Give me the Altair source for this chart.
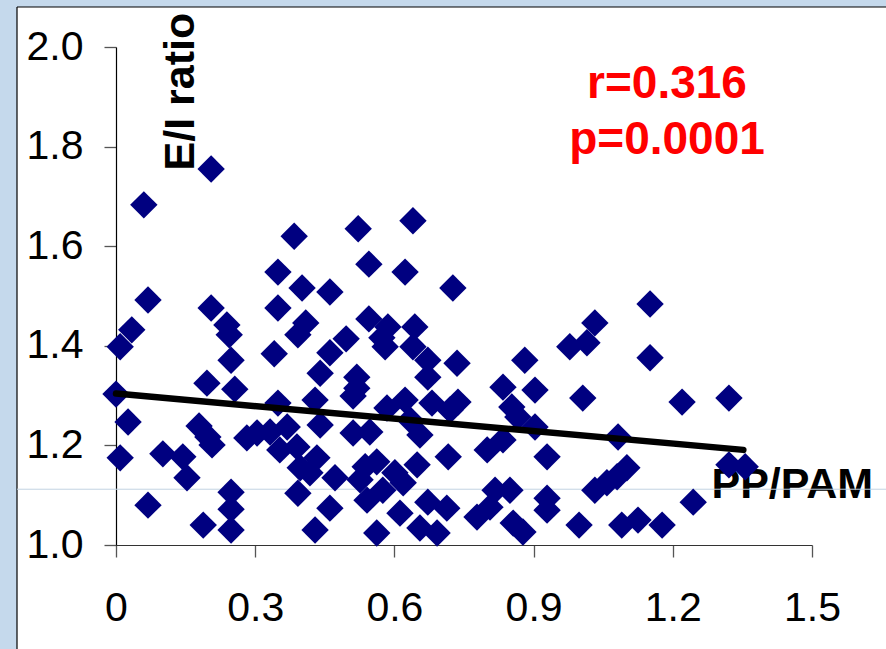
import altair as alt
import pandas as pd

# ---- data ----
PP_PAM = [0.000, 0.009, 0.034, 0.026, 0.009, 0.069, 0.060, 0.205, 0.069, 0.384,
          0.349, 0.401, 0.205, 0.239, 0.244, 0.349, 0.409, 0.392, 0.248, 0.341,
          0.522, 0.640, 0.545, 0.623, 0.726, 0.461, 0.545, 0.586, 0.644, 0.573,
          0.580, 0.640, 0.496, 0.461, 0.672, 0.735, 0.881, 1.151, 1.032, 0.978,
          1.015, 1.151, 0.196, 0.256, 0.179, 0.198, 0.207, 0.101, 0.144, 0.153,
          0.248, 0.248, 0.188, 0.248, 0.282, 0.304, 0.332, 0.349, 0.369, 0.353,
          0.390, 0.397, 0.418, 0.392, 0.429, 0.429, 0.440, 0.433, 0.519, 0.519,
          0.511, 0.672, 0.584, 0.623, 0.681, 0.737, 0.720, 0.440, 0.511, 0.547,
          0.655, 0.634, 0.834, 0.853, 0.866, 0.834, 0.800, 0.716, 0.472, 0.537,
          0.562, 0.601, 0.649, 0.619, 0.575, 0.541, 0.526, 0.461, 0.562, 0.612,
          0.672, 0.713, 0.655, 0.692, 0.817, 0.849, 0.806, 0.778, 0.856, 0.877,
          0.903, 1.006, 1.220, 1.321, 0.903, 1.082, 0.929, 1.101, 1.080, 1.058,
          1.032, 1.321, 1.356, 0.929, 0.929, 1.244, 0.998, 1.090, 1.125, 1.177]

EI_RATIO = [1.303, 1.398, 1.432, 1.247, 1.175, 1.080, 1.683, 1.755, 1.492, 1.620,
            1.548, 1.516, 1.476, 1.442, 1.422, 1.476, 1.446, 1.422, 1.371, 1.384,
            1.635, 1.651, 1.564, 1.548, 1.516, 1.508, 1.454, 1.438, 1.438, 1.416,
            1.398, 1.398, 1.414, 1.386, 1.371, 1.365, 1.371, 1.484, 1.446, 1.398,
            1.406, 1.376, 1.325, 1.313, 1.239, 1.217, 1.201, 1.183, 1.177, 1.135,
            1.106, 1.072, 1.040, 1.030, 1.215, 1.225, 1.227, 1.285, 1.237, 1.191,
            1.197, 1.155, 1.145, 1.104, 1.291, 1.030, 1.345, 1.175, 1.337, 1.315,
            1.299, 1.337, 1.275, 1.291, 1.285, 1.287, 1.271, 1.241, 1.225, 1.227,
            1.221, 1.251, 1.317, 1.277, 1.257, 1.211, 1.191, 1.177, 1.135, 1.157,
            1.167, 1.145, 1.161, 1.125, 1.110, 1.090, 1.131, 1.074, 1.024, 1.064,
            1.086, 1.074, 1.034, 1.024, 1.110, 1.110, 1.076, 1.056, 1.044, 1.026,
            1.311, 1.295, 1.287, 1.295, 1.237, 1.217, 1.177, 1.155, 1.137, 1.125,
            1.110, 1.161, 1.157, 1.094, 1.070, 1.086, 1.040, 1.040, 1.050, 1.040]

TREND_X = [0.0, 1.352]
TREND_Y = [1.304, 1.191]

X_TICKS = [0, 0.3, 0.6, 0.9, 1.2, 1.5]
Y_TICKS = [1.0, 1.2, 1.4, 1.6, 1.8, 2.0]

STATS_TEXT = ["r=0.316", "p=0.0001"]
STATS_X = [1.1875, 1.1875]
STATS_Y = [1.898, 1.785]

SLIDE_LINE_Y = [1.112]

FONT = "Liberation Sans"
BG_BLUE = "#C5D9EC"

points_df = pd.DataFrame({"pp": PP_PAM, "ei": EI_RATIO})
trend_df = pd.DataFrame({"pp": TREND_X, "ei": TREND_Y})
stats_df = pd.DataFrame({"pp": STATS_X, "ei": STATS_Y, "label": STATS_TEXT})
line_df = pd.DataFrame({"ei": SLIDE_LINE_Y})
one = pd.DataFrame({"k": [0]})

x_scale = alt.Scale(domain=[0, 1.5], nice=False, zero=False)
y_scale = alt.Scale(domain=[1.0, 2.0], nice=False, zero=False)

x_axis = alt.Axis(
    values=X_TICKS,
    labelExpr="datum.value == 0 ? '0' : format(datum.value, '.1f')",
    title="PP/PAM", titleX=595, titleY=-48, titleAlign="left",
    titleBaseline="alphabetic", titleAngle=0, titleFont=FONT,
    titleFontSize=43, titleFontWeight="bold", titleColor="black",
    labelFont=FONT, labelFontSize=41, labelColor="black", labelPadding=31,
    labelFlush=False, labelOverlap=False,
    tickSize=12, tickColor="#555555", tickWidth=1.3,
    domainColor="#333333", domainWidth=1.2, grid=False,
)
y_axis = alt.Axis(
    values=Y_TICKS, format=".1f",
    title="E/I ratio", titleX=77, titleY=123, titleAngle=270,
    titleAlign="left", titleBaseline="alphabetic", titleFont=FONT,
    titleFontSize=43, titleFontWeight="bold", titleColor="black",
    labelFont=FONT, labelFontSize=41, labelColor="black", labelPadding=21,
    labelFlush=False, labelOverlap=False,
    tickSize=12, tickColor="#555555", tickWidth=1.3,
    domainColor="black", domainWidth=1.2, grid=False,
)

strip_left = alt.Chart(one).mark_rect(color=BG_BLUE).encode(
    x=alt.value(-116), x2=alt.value(-99), y=alt.value(-47), y2=alt.value(602))
strip_top = alt.Chart(one).mark_rect(color=BG_BLUE).encode(
    x=alt.value(-116), x2=alt.value(770), y=alt.value(-47), y2=alt.value(-40))
frame_left = alt.Chart(one).mark_rule(color="black", strokeWidth=1.2).encode(
    x=alt.value(-99), y=alt.value(-40), y2=alt.value(602))
frame_top = alt.Chart(one).mark_rule(color="black", strokeWidth=1.2).encode(
    x=alt.value(-99), x2=alt.value(770), y=alt.value(-40))

slide_line = alt.Chart(line_df).mark_rule(color="#C3D3E2", strokeWidth=1).encode(
    y=alt.Y("ei:Q", scale=y_scale, axis=y_axis),
    x=alt.value(-99), x2=alt.value(770))

points = alt.Chart(points_df).mark_point(
    shape="diamond", filled=True, size=750, color="#000080", opacity=1
).encode(
    x=alt.X("pp:Q", scale=x_scale, axis=x_axis),
    y=alt.Y("ei:Q", scale=y_scale, axis=y_axis),
)

trend = alt.Chart(trend_df).mark_line(
    color="black", strokeWidth=6.5, strokeCap="round"
).encode(
    x=alt.X("pp:Q", scale=x_scale, axis=x_axis),
    y=alt.Y("ei:Q", scale=y_scale, axis=y_axis),
)

stats = alt.Chart(stats_df).mark_text(
    font=FONT, fontSize=46, fontWeight="bold", color="#FF0000",
    align="center", baseline="alphabetic"
).encode(
    x=alt.X("pp:Q", scale=x_scale, axis=x_axis),
    y=alt.Y("ei:Q", scale=y_scale, axis=y_axis),
    text="label:N",
)

chart = alt.layer(
    strip_left, strip_top, frame_left, frame_top, slide_line, points, trend, stats
).properties(
    width=696, height=498,
    autosize=alt.AutoSizeParams(type="none"),
    padding={"left": 116, "top": 47, "right": 74, "bottom": 104},
    background="white",
).configure_view(strokeWidth=0)

chart.save("out.html", embed_options={"renderer": "svg", "actions": False})
